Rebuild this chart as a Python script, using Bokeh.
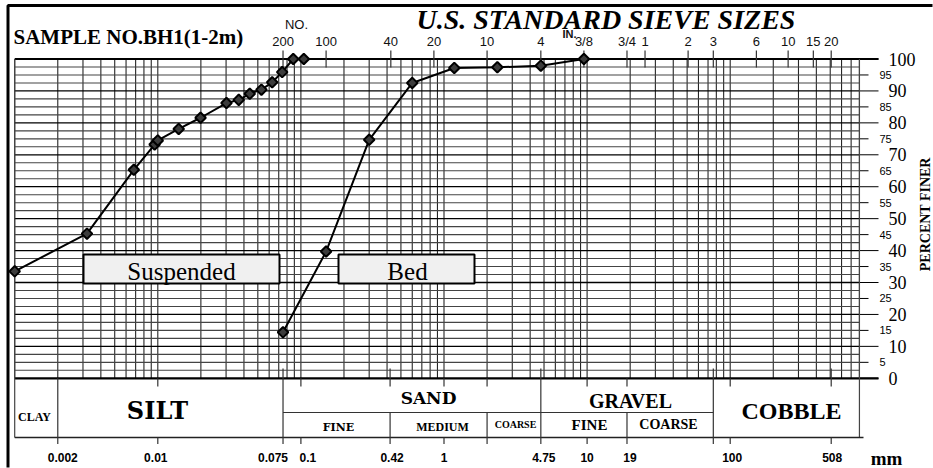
import math
from bokeh.plotting import figure
from bokeh.models import Range1d
from bokeh.core.properties import value
from bokeh.embed import file_html
from bokeh.resources import INLINE

# ---------------- data ----------------
susp_size_mm = [0.001, 0.0032, 0.0068, 0.0095, 0.0100, 0.0140, 0.0199, 0.0302,
                0.0368, 0.0439, 0.0530, 0.0630, 0.0740, 0.0884, 0.1048]
susp_pct = [33.5, 45.3, 65.3, 73.2, 74.5, 78.1, 81.6, 86.2, 87.2, 89.1, 90.4,
            92.7, 95.9, 100.0, 100.0]
bed_size_mm = [0.075, 0.15, 0.30, 0.60, 1.18, 2.36, 4.75, 9.5]
bed_pct = [14.4, 39.7, 74.7, 92.5, 97.2, 97.4, 97.9, 100.0]

sieve_mm = [0.075, 0.15, 0.425, 0.85, 2.0, 4.75, 9.5, 19.0, 25.4, 50.8, 76.2,
            152.4, 254.0, 381.0, 508.0]
sieve_labels = ["200", "100", "40", "20", "10", "4", "3/8", "3/4", "1", "2", "3",
                "6", "10", "15", "20"]

bottom_mm = [0.002, 0.01, 0.075, 0.1, 0.42, 1.0, 4.75, 10.0, 19.0, 100.0, 508.0]
bottom_labels = ["0.002", "0.01", "0.075", "0.1", "0.42", "1", "4.75", "10", "19",
                 "100", "508"]
bottom_dx = [5, -2, -10, 7, 2, 0, 3, 0, 3, 2, 1]   # label nudges in px

pct_major = [0, 10, 20, 30, 40, 50, 60, 70, 80, 90, 100]
pct_minor = [5, 15, 25, 35, 45, 55, 65, 75, 85, 95]

# ---------------- layout helpers (picture px -> data) ----------------
PX0, PPD = 300.4, 143.1   # px of 0.1 mm, px per decade
PY0, PPP = 377.8, 3.193   # px of 0 %, px per percent


def mm_at(px):
    return 0.1 * 10 ** ((px - PX0) / PPD)


def pct_at(py):
    return (PY0 - py) / PPP


def px_of(mm):
    return PX0 + PPD * math.log10(mm / 0.1)


W, H = 933, 468
p = figure(width=W, height=H, x_axis_type="log",
           x_range=Range1d(mm_at(0), mm_at(W)),
           y_range=Range1d(pct_at(H), pct_at(0)),
           x_axis_location=None, y_axis_location=None,
           toolbar_location=None, output_backend="svg", min_border=0,
           outline_line_color=None, background_fill_color="white",
           border_fill_color="white")
p.xgrid.grid_line_color = None
p.ygrid.grid_line_color = None

XMIN, XMAX = 0.001, 800.0

# outer page frame (top & left)
p.line(x=[mm_at(7.5), mm_at(7.5), mm_at(W - 1)],
       y=[pct_at(H - 1), pct_at(5), pct_at(5)],
       line_color="black", line_width=3)

# ---------------- grid ----------------
grid_mm = [m * 10.0 ** e for e in range(-3, 3) for m in range(1, 10)
           if m * 10.0 ** e <= XMAX * 1.0001]
p.segment(x0=grid_mm, y0=0, x1=grid_mm, y1=100, line_color="#262626", line_width=1.1)

h_lines = [i * 2.5 for i in range(1, 40)]
h_dark = [v for v in h_lines if v % 10 == 0]
h_light = [v for v in h_lines if v % 10 != 0]
p.segment(x0=XMIN, y0=h_light, x1=XMAX, y1=h_light, line_color="#444444", line_width=1.1)
p.segment(x0=XMIN, y0=h_dark, x1=XMAX, y1=h_dark, line_color="#000000", line_width=1.3)

# plot frame lines
tick_major_end = mm_at(878)
tick_minor_end = mm_at(868)
p.segment(x0=XMIN, y0=[0, 100], x1=tick_major_end, y1=[0, 100], line_color="black", line_width=2.2)
p.segment(x0=XMAX, y0=pct_major, x1=tick_major_end, y1=pct_major, line_color="black", line_width=1)
p.segment(x0=XMAX, y0=pct_minor, x1=tick_minor_end, y1=pct_minor, line_color="black", line_width=1)
p.segment(x0=[XMIN, XMAX], y0=100, x1=[XMIN, XMAX], y1=pct_at(437), line_color="#444444", line_width=1.2)

# sieve ticks on top
p.segment(x0=sieve_mm, y0=pct_at(67), x1=sieve_mm, y1=pct_at(50), line_color="#333333", line_width=1.2)

# ---------------- classification table ----------------
y_above = pct_at(368)
y_short = pct_at(386)
y_mid = pct_at(412)
y_bot = pct_at(437)
y_tick = pct_at(443.5)

p.segment(x0=XMIN, y0=y_bot, x1=mm_at(863), y1=y_bot, line_color="#222222", line_width=1.3)
p.segment(x0=0.075, y0=y_mid, x1=76.2, y1=y_mid, line_color="#333333", line_width=1.2)
main_sep = [0.002, 0.075, 4.75, 76.2]
p.segment(x0=main_sep, y0=[0, y_above, y_above, y_above], x1=main_sep, y1=y_tick,
          line_color="#333333", line_width=1.2)
sub_sep = [0.42, 2.0, 19.0]
p.segment(x0=sub_sep, y0=y_mid, x1=sub_sep, y1=y_tick, line_color="#333333", line_width=1.2)
p.segment(x0=sub_sep, y0=[y_above, 0, 0], x1=sub_sep, y1=y_short, line_color="#333333", line_width=1.2)
dec_ticks = [0.01, 0.1, 1.0, 10.0, 100.0, 508.0]
p.segment(x0=dec_ticks, y0=[0, 0, 0, 0, 0, y_above], x1=dec_ticks, y1=y_short,
          line_color="#333333", line_width=1.2)
p.segment(x0=dec_ticks, y0=y_bot, x1=dec_ticks, y1=y_tick, line_color="#333333", line_width=1.2)

# ---------------- label boxes ----------------
p.quad(left=[mm_at(83), mm_at(338)], right=[mm_at(279), mm_at(474)],
       top=pct_at(254), bottom=pct_at(283),
       fill_color="#f0f0f0", line_color="black", line_width=2)
p.text(x=[mm_at(181), mm_at(407)], y=pct_at(271), text=["Suspended", "Bed"],
       text_font=value("Liberation Serif"), text_font_size="25px",
       text_align="center", text_baseline="middle", text_color="black")

# ---------------- data curves ----------------
for xs, ys in ((susp_size_mm, susp_pct), (bed_size_mm, bed_pct)):
    p.line(xs, ys, line_color="black", line_width=2)
    p.scatter(xs, ys, marker="square", angle=math.pi / 4, size=7.5,
              fill_color="#3c3c3c", line_color="black", line_width=2)

# ---------------- texts ----------------
p.text(x=[mm_at(13)], y=[pct_at(36)], text=["SAMPLE NO.BH1(1-2m)"],
       text_font=value("Liberation Serif"), text_font_style="bold",
       text_font_size="21px", text_align="left", text_baseline="middle")
p.text(x=[mm_at(416)], y=[pct_at(19)], text=["U.S. STANDARD SIEVE SIZES"],
       text_font=value("Liberation Serif"), text_font_style="bold italic",
       text_font_size="28px", text_align="left", text_baseline="middle")

p.text(x=sieve_mm, y=pct_at(41), text=sieve_labels,
       text_font=value("Liberation Sans"), text_font_size="13px",
       text_align="center", text_baseline="middle", text_color="#111111")
p.text(x=[mm_at(296)], y=[pct_at(24)], text=["NO."],
       text_font=value("Liberation Sans"), text_font_size="13px",
       text_align="center", text_baseline="middle", text_color="#111111")
p.text(x=[mm_at(569)], y=[pct_at(33)], text=["IN."],
       text_font=value("Liberation Sans"), text_font_size="11px", text_font_style="bold",
       text_align="center", text_baseline="middle", text_color="#111111")

# right axis labels
p.text(x=mm_at(888), y=pct_major, text=[str(v) for v in pct_major],
       text_font=value("Liberation Serif"), text_font_size="18px",
       text_align="left", text_baseline="middle")
p.text(x=mm_at(879), y=pct_minor, text=[str(v) for v in pct_minor],
       text_font=value("Liberation Sans"), text_font_size="11px",
       text_align="left", text_baseline="middle")
p.text(x=[mm_at(925)], y=[pct_at(212)], text=["PERCENT  FINER"], angle=math.pi / 2,
       text_font=value("Liberation Serif"), text_font_style="bold",
       text_font_size="14px", text_align="center", text_baseline="middle")

# bottom labels
p.text(x=[mm_at(px_of(v) + d) for v, d in zip(bottom_mm, bottom_dx)], y=pct_at(457),
       text=bottom_labels, text_font=value("Liberation Sans"), text_font_style="bold",
       text_font_size="12px", text_align="center", text_baseline="middle")
p.text(x=[mm_at(886)], y=[pct_at(458)], text=["mm"],
       text_font=value("Liberation Serif"), text_font_style="bold",
       text_font_size="19px", text_align="center", text_baseline="middle")

# table texts
def tlabel(txt, px, py, size, font="Liberation Serif"):
    p.text(x=[mm_at(px)], y=[pct_at(py)], text=[txt], text_font=value(font),
           text_font_style="bold", text_font_size=size,
           text_align="center", text_baseline="middle")


tlabel("CLAY", 34, 416, "12px")
tlabel("SILT", 157, 410, "24px", "DejaVu Serif")
tlabel("SAND", 428, 397, "17px", "DejaVu Serif")
tlabel("FINE", 338, 427, "11px", "DejaVu Serif")
tlabel("MEDIUM", 442, 426, "12px")
tlabel("COARSE", 515, 424, "10px")
tlabel("GRAVEL", 630, 400, "20px")
tlabel("FINE", 589, 424, "15px")
tlabel("COARSE", 668, 424, "14px")
tlabel("COBBLE", 791, 410, "24px")

open("out.html", "w").write(file_html(p, INLINE))
